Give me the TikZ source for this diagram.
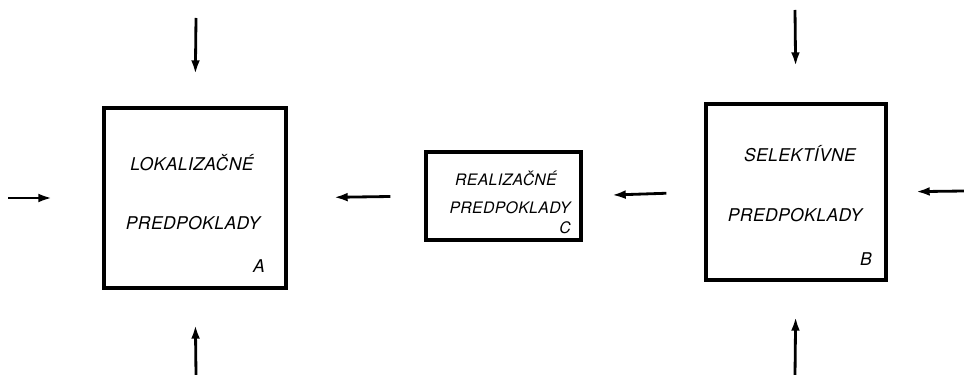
\documentclass[tikz,border=0pt]{standalone}
\usepackage{fontspec}
\newfontfamily\letterfont[LetterSpace=2]{TeX Gyre Heros}
\usetikzlibrary{arrows.meta}
\begin{document}
\begin{tikzpicture}[x=0.03cm, y=-0.03cm, >={Latex[length=12pt, width=7.5pt]},
		box/.style={draw, line width=2.8pt, inner sep=0pt},
		lbl/.style={font=\letterfont\itshape\fontsize{15}{17}\selectfont},
		smalllbl/.style={font=\letterfont\itshape\fontsize{13.5}{15}\selectfont},
		arr/.style={->, line width=2.4pt}]
		\useasboundingbox (0,0) rectangle (964,375);
		
		% Draw the boxes
		\node[box, minimum width=5.46cm, minimum height=5.4cm] (A) at (195,198) {};
		\node[box, minimum width=4.65cm, minimum height=2.64cm] (C) at (503.5,196) {};
		\node[box, minimum width=5.4cm, minimum height=5.28cm] (B) at (796,192) {};
		
		% texts of box A
		\node[lbl] (lokal) at (192,163) {LOKALIZAČNÉ};
		\node[lbl] (predA) at (193,223) {PREDPOKLADY};
		\node[lbl] (labA) at (259,266) {A};
		
		% texts of box C
		\node[smalllbl] (real) at (506,178) {REALIZAČNÉ};
		\node[smalllbl] (predC) at (510,208) {PREDPOKLADY};
		\node[smalllbl] (labC) at (565,228) {C};
		
		% texts of box B
		\node[lbl] (selek) at (800,154) {SELEKTÍVNE};
		\node[lbl] (predB) at (795,215) {PREDPOKLADY};
		\node[lbl] (labB) at (866,259) {B};
		
		% free ends of the outer arrows
		\coordinate (a-top) at (196,18);
		\coordinate (a-bot) at (196,375);
		\coordinate (a-left) at (8,198);
		\coordinate (b-top) at (795,10);
		\coordinate (b-bot) at (795,375);
		\coordinate (b-right) at (964,191);
		
		% Draw the arrows into A
		\draw[arr, shorten >=0.96cm] (a-top) -- (A.north);
		\draw[arr, shorten >=1.05cm] (a-bot) -- (A.south);
		\draw[arr, shorten >=1.5cm] (a-left) -- (A.west);
		
		% Draw the arrows between the boxes
		\draw[arr, shorten <=1.02cm, shorten >=1.38cm] (C.west) -- (A.east);
		\draw[arr, shorten <=1.14cm, shorten >=0.87cm] (B.west) -- (C.east);
		
		% Draw the arrows into B
		\draw[arr, shorten >=1.08cm] (b-top) -- (B.north);
		\draw[arr, shorten >=1.05cm] (b-bot) -- (B.south);
		\draw[arr, shorten >=0.84cm] (b-right) -- (B.east);
		
	\end{tikzpicture}
\end{document}
